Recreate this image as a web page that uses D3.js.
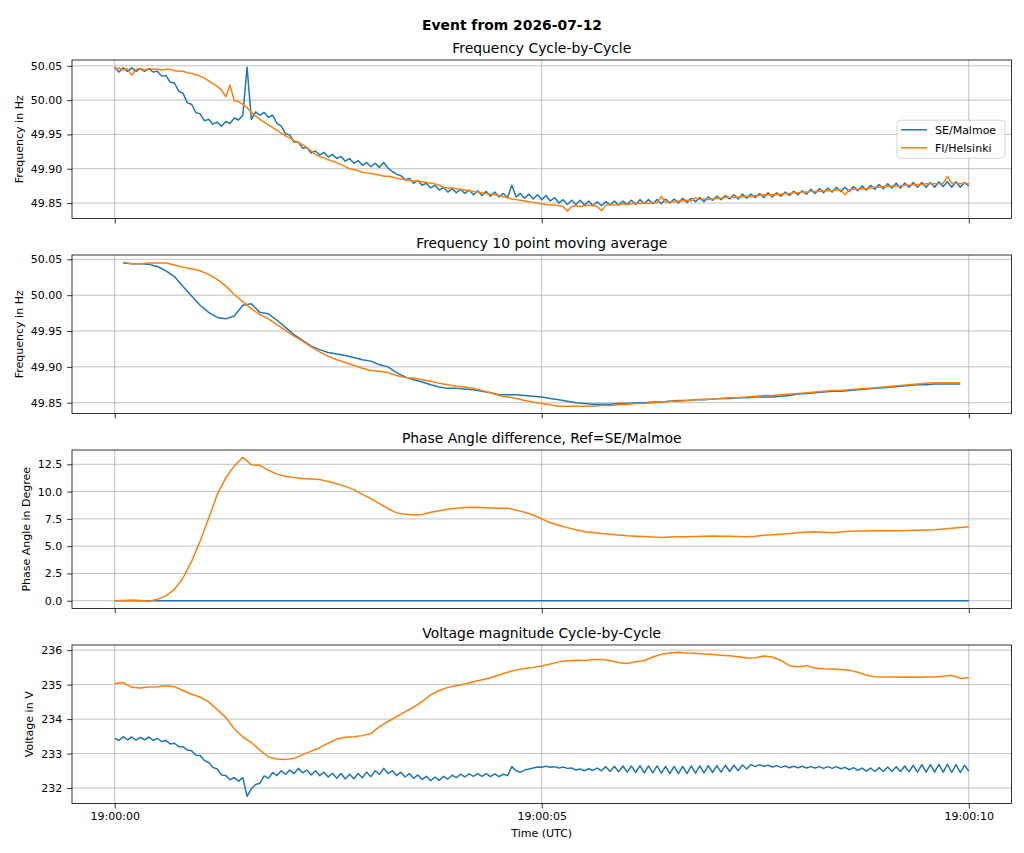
<!DOCTYPE html>
<html lang="en">
<head>
<meta charset="utf-8">
<title>Event from 2026-07-12</title>
<script src="https://d3js.org/d3.v7.min.js"></script>
<style>
  body { margin: 0; background: #fff; }
  text { font-family: "DejaVu Sans", sans-serif; fill: #000; }
</style>
</head>
<body>
<script>
// ---- data (seconds after 19:00:00 UTC) ----
var names = ["SE/Malmoe", "FI/Helsinki"];
var colors = ["#1f77b4", "#ff7f0e"];

// cycle-by-cycle frequency, sampled every 0.05 s from t = 0
var freqSE = [
50.048,50.041,50.047,50.042,50.047,50.042,50.046,50.042,50.046,50.041,
50.042,50.035,50.036,50.026,50.025,50.013,50.010,49.996,49.994,49.982,
49.980,49.970,49.972,49.965,49.968,49.962,49.969,49.966,49.974,49.971,
49.978,50.048,49.972,49.983,49.978,49.982,49.975,49.978,49.966,49.962,
49.951,49.949,49.939,49.939,49.930,49.931,49.923,49.926,49.920,49.924,
49.917,49.921,49.915,49.918,49.911,49.915,49.908,49.912,49.905,49.909,
49.903,49.908,49.902,49.909,49.901,49.896,49.892,49.890,49.884,49.886,
49.879,49.883,49.876,49.879,49.872,49.876,49.869,49.873,49.866,49.871,
49.865,49.870,49.864,49.869,49.862,49.868,49.861,49.867,49.860,49.866,
49.859,49.864,49.858,49.876,49.859,49.864,49.857,49.863,49.856,49.862,
49.855,49.861,49.853,49.858,49.850,49.855,49.848,49.854,49.848,49.854,
49.847,49.853,49.846,49.852,49.846,49.852,49.847,49.853,49.847,49.853,
49.848,49.854,49.848,49.855,49.849,49.855,49.849,49.855,49.849,49.856,
49.850,49.856,49.850,49.857,49.851,49.857,49.852,49.858,49.852,49.859,
49.854,49.860,49.855,49.861,49.856,49.862,49.856,49.863,49.857,49.863,
49.858,49.864,49.858,49.865,49.859,49.865,49.860,49.866,49.861,49.867,
49.862,49.868,49.863,49.870,49.864,49.871,49.865,49.872,49.866,49.873,
49.867,49.873,49.867,49.874,49.868,49.875,49.869,49.876,49.870,49.877,
49.871,49.878,49.872,49.879,49.872,49.879,49.873,49.880,49.873,49.880,
49.873,49.880,49.873,49.881,49.874,49.881,49.873,49.881,49.873,49.880,
49.875];
var freqFI = [
50.045,50.047,50.044,50.046,50.036,50.045,50.046,50.044,50.046,50.045,
50.045,50.044,50.045,50.045,50.043,50.042,50.042,50.040,50.039,50.037,
50.035,50.032,50.028,50.024,50.020,50.015,50.005,50.022,49.999,49.998,
49.994,49.989,49.982,49.977,49.972,49.968,49.964,49.960,49.956,49.952,
49.948,49.945,49.941,49.938,49.935,49.931,49.926,49.921,49.918,49.916,
49.913,49.911,49.909,49.906,49.903,49.900,49.899,49.897,49.895,49.894,
49.893,49.892,49.891,49.889,49.889,49.888,49.886,49.885,49.884,49.883,
49.882,49.882,49.881,49.880,49.879,49.878,49.876,49.873,49.872,49.872,
49.871,49.870,49.869,49.868,49.867,49.866,49.865,49.864,49.863,49.862,
49.861,49.859,49.858,49.856,49.855,49.854,49.853,49.852,49.851,49.850,
49.849,49.848,49.847,49.847,49.846,49.845,49.838,49.845,49.846,49.845,
49.846,49.847,49.846,49.845,49.839,49.847,49.848,49.847,49.848,49.849,
49.848,49.849,49.850,49.849,49.850,49.849,49.851,49.850,49.860,49.851,
49.852,49.852,49.853,49.853,49.854,49.853,49.858,49.855,49.856,49.855,
49.856,49.857,49.857,49.858,49.858,49.858,49.859,49.859,49.860,49.860,
49.861,49.861,49.862,49.862,49.862,49.863,49.863,49.864,49.864,49.865,
49.865,49.866,49.866,49.867,49.867,49.867,49.868,49.868,49.868,49.869,
49.869,49.862,49.869,49.870,49.870,49.871,49.871,49.872,49.873,49.873,
49.874,49.874,49.875,49.875,49.875,49.876,49.876,49.877,49.877,49.877,
49.878,49.878,49.878,49.878,49.879,49.889,49.879,49.879,49.878,49.879,
49.878];

// 10 point moving average, every 0.1 s from t = 0.1
var avgSE = [
50.045,50.044,50.044,50.043,50.040,50.034,50.026,50.012,49.999,49.986,
49.976,49.969,49.967,49.971,49.986,49.988,49.976,49.974,49.965,49.955,
49.945,49.937,49.929,49.924,49.920,49.918,49.916,49.913,49.910,49.908,
49.903,49.900,49.892,49.886,49.882,49.879,49.875,49.872,49.870,49.870,
49.869,49.868,49.866,49.864,49.861,49.861,49.861,49.860,49.859,49.858,
49.856,49.854,49.852,49.850,49.849,49.848,49.848,49.848,49.849,49.849,
49.850,49.850,49.851,49.851,49.852,49.853,49.853,49.854,49.854,49.855,
49.856,49.856,49.857,49.857,49.858,49.858,49.858,49.859,49.860,49.862,
49.863,49.864,49.865,49.866,49.866,49.867,49.868,49.869,49.870,49.871,
49.872,49.873,49.874,49.875,49.875,49.876,49.876,49.876,49.876];
var avgFI = [
50.046,50.044,50.044,50.045,50.045,50.045,50.042,50.039,50.037,50.034,
50.029,50.022,50.013,50.001,49.991,49.981,49.973,49.967,49.959,49.951,
49.943,49.936,49.928,49.921,49.915,49.910,49.906,49.902,49.898,49.895,
49.894,49.892,49.888,49.885,49.884,49.882,49.880,49.877,49.875,49.873,
49.872,49.870,49.867,49.864,49.860,49.858,49.856,49.853,49.851,49.849,
49.847,49.845,49.845,49.845,49.845,49.845,49.846,49.846,49.847,49.848,
49.849,49.849,49.850,49.851,49.852,49.852,49.853,49.854,49.855,49.855,
49.856,49.857,49.857,49.858,49.859,49.860,49.860,49.861,49.862,49.863,
49.864,49.865,49.866,49.867,49.867,49.868,49.869,49.870,49.871,49.872,
49.873,49.874,49.875,49.876,49.877,49.878,49.878,49.878,49.878];

// phase angle difference (degree), every 0.1 s from t = 0
var phaseSE = [
0,0,0,0,0,0,0,0,0,0,0,0,0,0,0,0,0,0,0,0,0,0,0,0,0,0,0,0,0,0,0,0,0,0,0,0,0,0,0,0,
0,0,0,0,0,0,0,0,0,0,0,0,0,0,0,0,0,0,0,0,0,0,0,0,0,0,0,0,0,0,0,0,0,0,0,0,0,0,0,0,
0,0,0,0,0,0,0,0,0,0,0,0,0,0,0,0,0,0,0,0,0];
var phaseFI = [
0.00,0.03,0.06,0.02,-0.05,0.13,0.45,1.05,2.10,3.60,
5.45,7.55,9.70,11.25,12.35,13.15,12.45,12.40,11.95,11.60,
11.40,11.28,11.20,11.15,11.10,10.92,10.72,10.48,10.18,9.75,
9.35,8.90,8.45,8.05,7.92,7.85,7.90,8.10,8.25,8.38,
8.48,8.55,8.56,8.54,8.50,8.47,8.48,8.30,8.10,7.86,
7.50,7.15,6.92,6.70,6.50,6.32,6.25,6.17,6.10,6.02,
5.96,5.92,5.88,5.83,5.80,5.84,5.86,5.87,5.89,5.91,
5.93,5.92,5.91,5.89,5.87,5.90,6.00,6.05,6.10,6.15,
6.22,6.30,6.33,6.28,6.24,6.30,6.36,6.38,6.39,6.41,
6.42,6.42,6.42,6.43,6.45,6.47,6.50,6.58,6.65,6.72,
6.78];

// voltage magnitude cycle-by-cycle
// SE every 0.05 s, FI every 0.1 s, both from t = 0
var voltSE = [
233.44,233.38,233.49,233.40,233.48,233.39,233.47,233.40,233.48,233.38,
233.44,233.35,233.38,233.28,233.30,233.20,233.20,233.10,233.08,232.95,
232.94,232.80,232.74,232.60,232.55,232.38,232.36,232.24,232.30,232.20,
232.30,231.76,231.98,232.10,232.14,232.35,232.28,232.45,232.36,232.50,
232.40,232.52,232.42,232.57,232.44,232.52,232.38,232.50,232.36,232.46,
232.32,232.43,232.28,232.42,232.26,232.40,232.27,232.42,232.30,232.46,
232.33,232.50,232.40,232.57,232.42,232.50,232.36,232.46,232.32,232.42,
232.28,232.38,232.25,232.34,232.21,232.32,232.22,232.34,232.26,232.37,
232.30,232.40,232.32,232.41,232.34,232.42,232.34,232.42,232.33,232.41,
232.33,232.40,232.36,232.62,232.50,232.46,232.52,232.55,232.58,232.61,
232.60,232.63,232.60,232.62,232.58,232.61,232.57,232.58,232.52,232.55,
232.50,232.56,232.51,232.58,232.50,232.62,232.48,232.63,232.47,232.64,
232.46,232.64,232.45,232.65,232.44,232.64,232.44,232.64,232.43,232.63,
232.42,232.63,232.42,232.63,232.42,232.64,232.43,232.64,232.44,232.65,
232.45,232.65,232.46,232.66,232.48,232.66,232.50,232.67,232.55,232.68,
232.62,232.68,232.63,232.66,232.61,232.65,232.60,232.64,232.59,232.63,
232.59,232.63,232.58,232.62,232.58,232.62,232.57,232.62,232.57,232.62,
232.56,232.60,232.53,232.59,232.51,232.58,232.49,232.58,232.48,232.59,
232.48,232.61,232.48,232.62,232.48,232.64,232.47,232.66,232.46,232.68,
232.46,232.68,232.46,232.69,232.46,232.69,232.45,232.68,232.45,232.66,
232.49];
var voltFI = [
235.03,235.06,234.92,234.90,234.93,234.94,234.97,234.94,234.83,234.72,
234.64,234.50,234.28,234.05,233.72,233.48,233.32,233.10,232.90,232.84,
232.83,232.86,232.97,233.07,233.17,233.30,233.42,233.47,233.49,233.52,
233.58,233.78,233.93,234.07,234.21,234.35,234.51,234.70,234.83,234.92,
234.97,235.02,235.08,235.14,235.20,235.28,235.36,235.42,235.47,235.50,
235.54,235.60,235.66,235.69,235.71,235.70,235.73,235.73,235.70,235.64,
235.61,235.66,235.70,235.80,235.88,235.92,235.94,235.92,235.91,235.89,
235.87,235.85,235.84,235.81,235.77,235.78,235.83,235.80,235.70,235.55,
235.52,235.55,235.48,235.46,235.45,235.44,235.42,235.36,235.27,235.23,
235.22,235.22,235.21,235.22,235.21,235.22,235.22,235.24,235.27,235.18,
235.20];

var xTicks = [0, 5, 10];
var freqTicks = [49.85, 49.90, 49.95, 50.00, 50.05];
var phaseTicks = [0, 2.5, 5, 7.5, 10, 12.5];
var voltTicks = [232, 233, 234, 235, 236];

// ---- layout ----
var width = 1024, height = 853;
var left = 72, right = 1011.5;
var panelTop = [60, 255, 450, 645], panelH = 158.5;
var tickLen = 4.9, tickPad = 4.9, labelPad = 5.6;
var t0 = Date.UTC(2026, 6, 12, 19, 0, 0);

function toPoints(values, start, step) {
    return values.map(function(v, i) {
        return { t: new Date(t0 + Math.round((start + i * step) * 1000)), v: v };
    });
}

var panels = [
    { title: "Frequency Cycle-by-Cycle", ylabel: "Frequency in Hz",
      ticks: freqTicks, fmt: d3.format(".2f"), legend: true,
      series: [toPoints(freqSE, 0, 0.05), toPoints(freqFI, 0, 0.05)] },
    { title: "Frequency 10 point moving average", ylabel: "Frequency in Hz",
      ticks: freqTicks, fmt: d3.format(".2f"),
      series: [toPoints(avgSE, 0.1, 0.1), toPoints(avgFI, 0.1, 0.1)] },
    { title: "Phase Angle difference, Ref=SE/Malmoe", ylabel: "Phase Angle in Degree",
      ticks: phaseTicks, fmt: d3.format(".1f"),
      series: [toPoints(phaseSE, 0, 0.1), toPoints(phaseFI, 0, 0.1)] },
    { title: "Voltage magnitude Cycle-by-Cycle", ylabel: "Voltage in V",
      ticks: voltTicks, fmt: d3.format("d"), xlabels: true,
      series: [toPoints(voltSE, 0, 0.05), toPoints(voltFI, 0, 0.1)] }
];

var svg = d3.select("body").append("svg")
    .attr("width", width)
    .attr("height", height);

svg.append("text")
    .attr("x", width / 2)
    .attr("y", 29.5)
    .attr("text-anchor", "middle")
    .attr("font-size", "13.9px")
    .attr("font-weight", "bold")
    .text("Event from 2026-07-12");

// shared x scale, matplotlib style 5% margins
var x = d3.scaleUtc()
    .domain([new Date(t0 - 500), new Date(t0 + 10500)])
    .range([left, right]);

panels.forEach(function(p, k) {
    var top = panelTop[k], bottom = top + panelH;
    var all = [];
    p.series.forEach(function(s) { s.forEach(function(d) { all.push(d.v); }); });
    var ext = d3.extent(all), pad = (ext[1] - ext[0]) * 0.05;
    var y = d3.scaleLinear()
        .domain([ext[0] - pad, ext[1] + pad])
        .range([bottom, top]);

    var g = svg.append("g");

    // grid
    g.selectAll(".gy").data(p.ticks).enter().append("line")
        .attr("x1", left).attr("x2", right)
        .attr("y1", function(d) { return y(d); })
        .attr("y2", function(d) { return y(d); })
        .attr("stroke", "#b0b0b0").attr("stroke-width", 0.8);
    g.selectAll(".gx").data(xTicks).enter().append("line")
        .attr("x1", function(d) { return x(new Date(t0 + d * 1000)); })
        .attr("x2", function(d) { return x(new Date(t0 + d * 1000)); })
        .attr("y1", top).attr("y2", bottom)
        .attr("stroke", "#b0b0b0").attr("stroke-width", 0.8);

    // lines
    var line = d3.line()
        .x(function(d) { return x(d.t); })
        .y(function(d) { return y(d.v); });
    p.series.forEach(function(s, i) {
        g.append("path")
            .attr("d", line(s))
            .attr("fill", "none")
            .attr("stroke", colors[i])
            .attr("stroke-width", 1.5)
            .attr("stroke-linejoin", "round");
    });

    // axes
    var yAxis = d3.axisLeft(y).tickValues(p.ticks).tickFormat(p.fmt)
        .tickSize(tickLen).tickPadding(tickPad);
    var gy = g.append("g").attr("transform", "translate(" + left + ",0)").call(yAxis);
    var xAxis = d3.axisBottom(x)
        .tickValues(xTicks.map(function(d) { return new Date(t0 + d * 1000); }))
        .tickFormat(p.xlabels ? d3.utcFormat("%H:%M:%S") : "")
        .tickSize(tickLen).tickPadding(tickPad - 1);
    var gx = g.append("g").attr("transform", "translate(0," + bottom + ")").call(xAxis);
    [gy, gx].forEach(function(a) {
        a.select(".domain").remove();
        a.selectAll("line").attr("stroke", "#000").attr("stroke-width", 0.8);
        a.selectAll("text").attr("font-size", "11px").attr("font-family", "DejaVu Sans").attr("fill", "#000");
    });

    // frame
    g.append("rect")
        .attr("x", left).attr("y", top)
        .attr("width", right - left).attr("height", panelH)
        .attr("fill", "none").attr("stroke", "#000").attr("stroke-width", 0.8);

    // titles
    g.append("text")
        .attr("x", (left + right) / 2).attr("y", top - 7)
        .attr("text-anchor", "middle").attr("font-size", "13.9px")
        .text(p.title);

    var tw = 0;
    gy.selectAll("text").each(function() { tw = Math.max(tw, this.getBBox().width); });
    var lx = left - tickLen - tickPad - tw - labelPad - 2.6;
    g.append("text")
        .attr("transform", "translate(" + lx + "," + (top + panelH / 2) + ") rotate(-90)")
        .attr("text-anchor", "middle").attr("font-size", "11px")
        .text(p.ylabel);

    if (p.xlabels) {
        g.append("text")
            .attr("x", (left + right) / 2).attr("y", bottom + 33)
            .attr("text-anchor", "middle").attr("font-size", "11px")
            .text("Time (UTC)");
    }

    if (p.legend) {
        var lw = 108, lh = 38;
        var lg = g.append("g")
            .attr("transform", "translate(" + (right - 6.5 - lw) + "," + (top + panelH / 2 - lh / 2) + ")");
        lg.append("rect")
            .attr("width", lw).attr("height", lh).attr("rx", 3)
            .attr("fill", "#fff").attr("fill-opacity", 0.8)
            .attr("stroke", "#cccccc").attr("stroke-width", 0.8);
        names.forEach(function(n, i) {
            var yy = 9.5 + i * 18;
            lg.append("line")
                .attr("x1", 4).attr("x2", 30).attr("y1", yy).attr("y2", yy)
                .attr("stroke", colors[i]).attr("stroke-width", 1.5);
            lg.append("text")
                .attr("x", 38).attr("y", yy + 4)
                .attr("font-size", "11px")
                .text(n);
        });
    }
});
</script>
</body>
</html>
